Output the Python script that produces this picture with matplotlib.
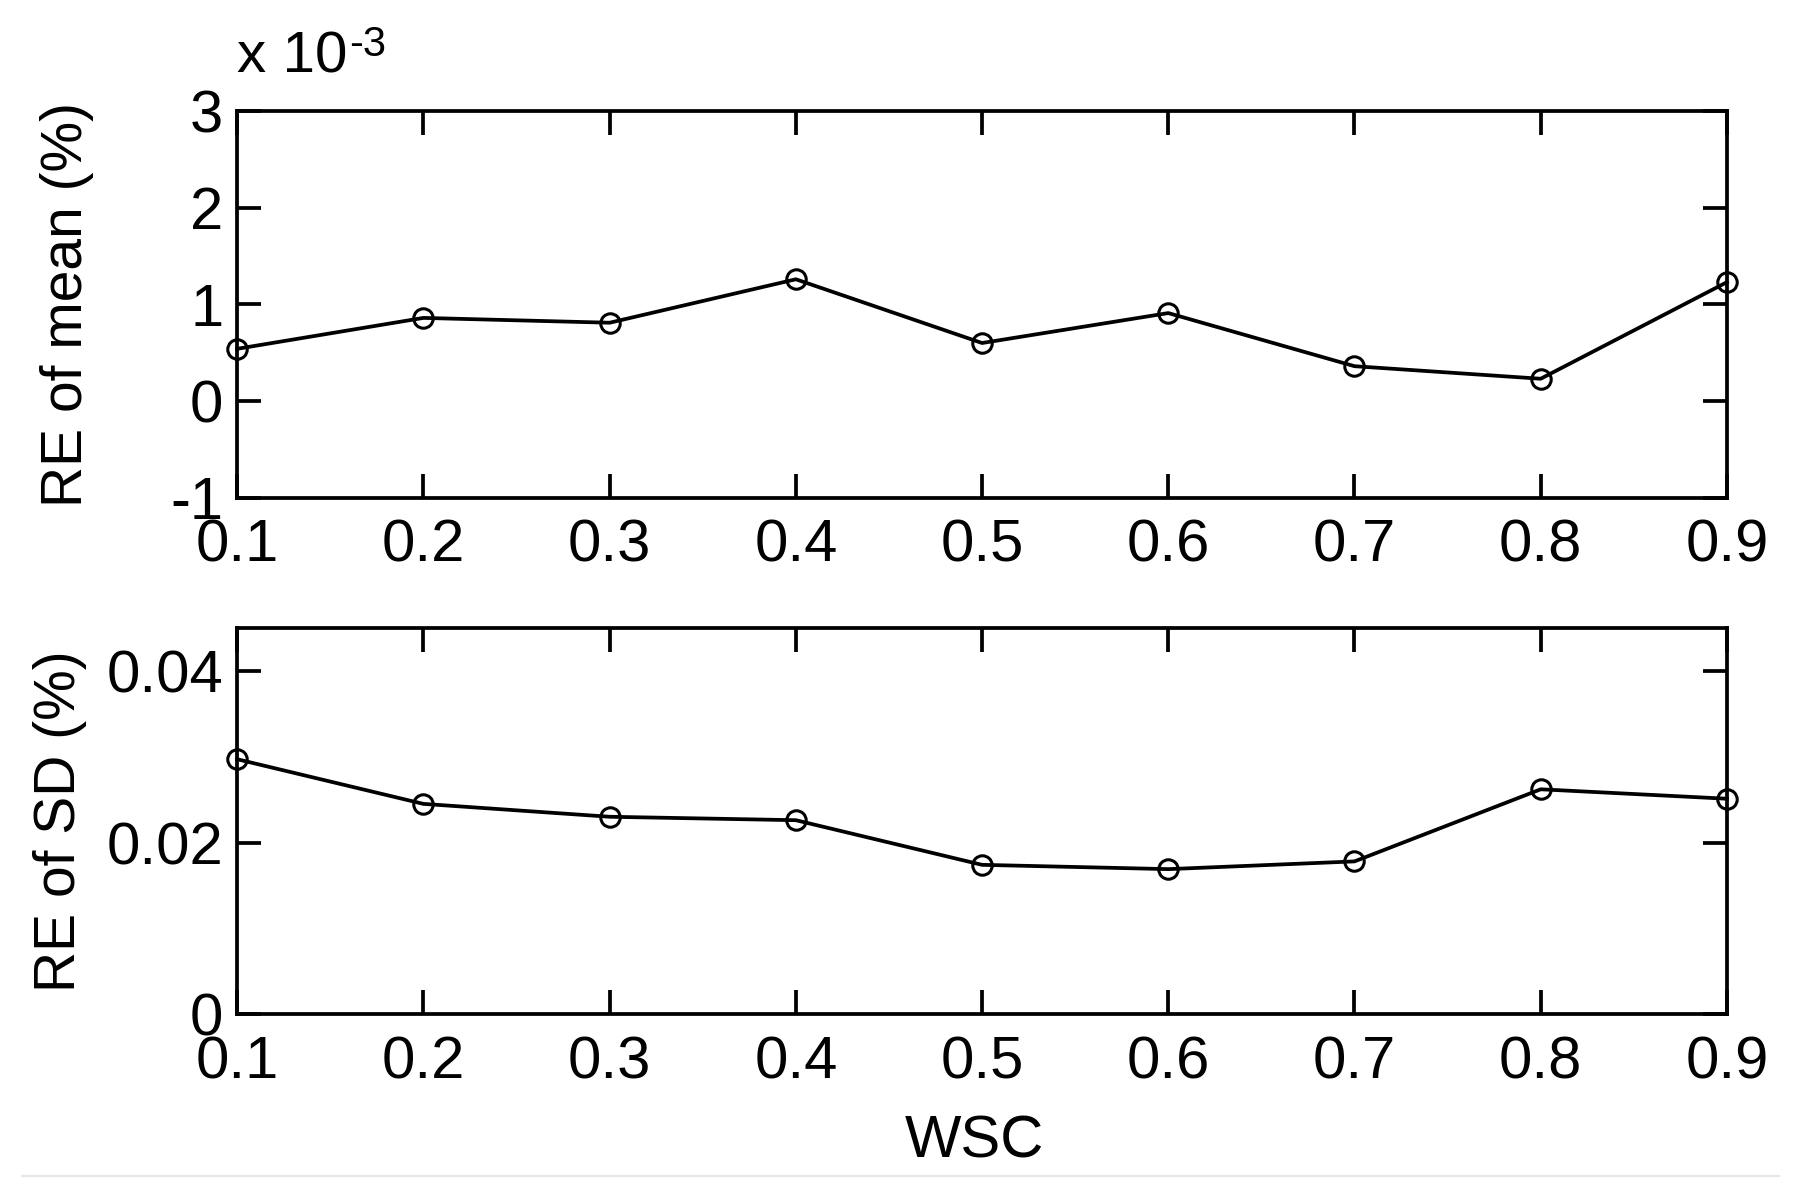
import numpy as np
import matplotlib
matplotlib.use("Agg")
import matplotlib.pyplot as plt
from matplotlib.lines import Line2D

# ── Data ─────────────────────────────────────────────────────────────
wsc = [0.1, 0.2, 0.3, 0.4, 0.5, 0.6, 0.7, 0.8, 0.9]
# relative error of mean, in units of 1e-3 %
re_mean = [0.54, 0.86, 0.81, 1.26, 0.60, 0.91, 0.36, 0.23, 1.23]
# relative error of SD, %
re_sd = [0.0297, 0.0245, 0.0230, 0.0226, 0.0174, 0.0169, 0.0178, 0.0262, 0.0251]

x_ticks = [0.1, 0.2, 0.3, 0.4, 0.5, 0.6, 0.7, 0.8, 0.9]
mean_yticks = [-1, 0, 1, 2, 3]
sd_yticks = [0, 0.02, 0.04]

# ── Style ────────────────────────────────────────────────────────────
FONT = ["Liberation Sans", "DejaVu Sans"]
TICK_SIZE = 43
LW = 2.7

fig = plt.figure(figsize=(17.97, 11.96), dpi=100)
fig.patch.set_facecolor("white")

ax1 = fig.add_axes([0.132, 0.584, 0.829, 0.323])
ax2 = fig.add_axes([0.132, 0.152, 0.829, 0.323])


def style_axes(ax):
    for sp in ax.spines.values():
        sp.set_linewidth(LW)
    ax.tick_params(axis="both", which="both", direction="in",
                   top=True, right=True, length=17, width=LW,
                   labelsize=TICK_SIZE, pad=10)
    ax.tick_params(axis="x", pad=15)
    for lab in ax.get_xticklabels() + ax.get_yticklabels():
        lab.set_fontfamily(FONT)


# Top panel — RE of mean
ax1.plot(wsc, re_mean, color="black", linewidth=LW, marker="o",
         markersize=14, markerfacecolor="none", markeredgewidth=2.2,
         clip_on=False)
ax1.set_xlim(0.1, 0.9)
ax1.set_ylim(-1, 3)
ax1.set_xticks(x_ticks)
ax1.set_yticks(mean_yticks)
ax1.set_xticklabels([f"{v:.1f}" for v in x_ticks])
ax1.set_yticklabels([str(v) for v in mean_yticks])
style_axes(ax1)
ax1.set_ylabel("RE of mean (%)", fontsize=41, family=FONT)
ax1.yaxis.set_label_coords(-0.096, 0.5)

mult = ax1.text(0.0, 1.07, "x 10", transform=ax1.transAxes,
                fontsize=42, family=FONT, ha="left", va="bottom")
ax1.annotate("-3", xy=(1, 1), xycoords=mult, xytext=(1, 4),
             textcoords="offset points", fontsize=30, family=FONT,
             ha="left", va="top")

# Bottom panel — RE of SD
ax2.plot(wsc, re_sd, color="black", linewidth=LW, marker="o",
         markersize=14, markerfacecolor="none", markeredgewidth=2.2,
         clip_on=False)
ax2.set_xlim(0.1, 0.9)
ax2.set_ylim(0, 0.045)
ax2.set_xticks(x_ticks)
ax2.set_yticks(sd_yticks)
ax2.set_xticklabels([f"{v:.1f}" for v in x_ticks])
ax2.set_yticklabels(["0", "0.02", "0.04"])
style_axes(ax2)
ax2.set_ylabel("RE of SD (%)", fontsize=41, family=FONT)
ax2.yaxis.set_label_coords(-0.101, 0.5)
ax2.set_xlabel("WSC", fontsize=43, family=FONT)
ax2.xaxis.set_label_coords(0.495, -0.26)

# faint rule along the bottom of the image
fig.add_artist(Line2D([0.012, 0.99], [0.017, 0.017], transform=fig.transFigure,
                      color="#e6e6e6", linewidth=1.5))

fig.savefig("out.png", dpi=100, facecolor="white")
